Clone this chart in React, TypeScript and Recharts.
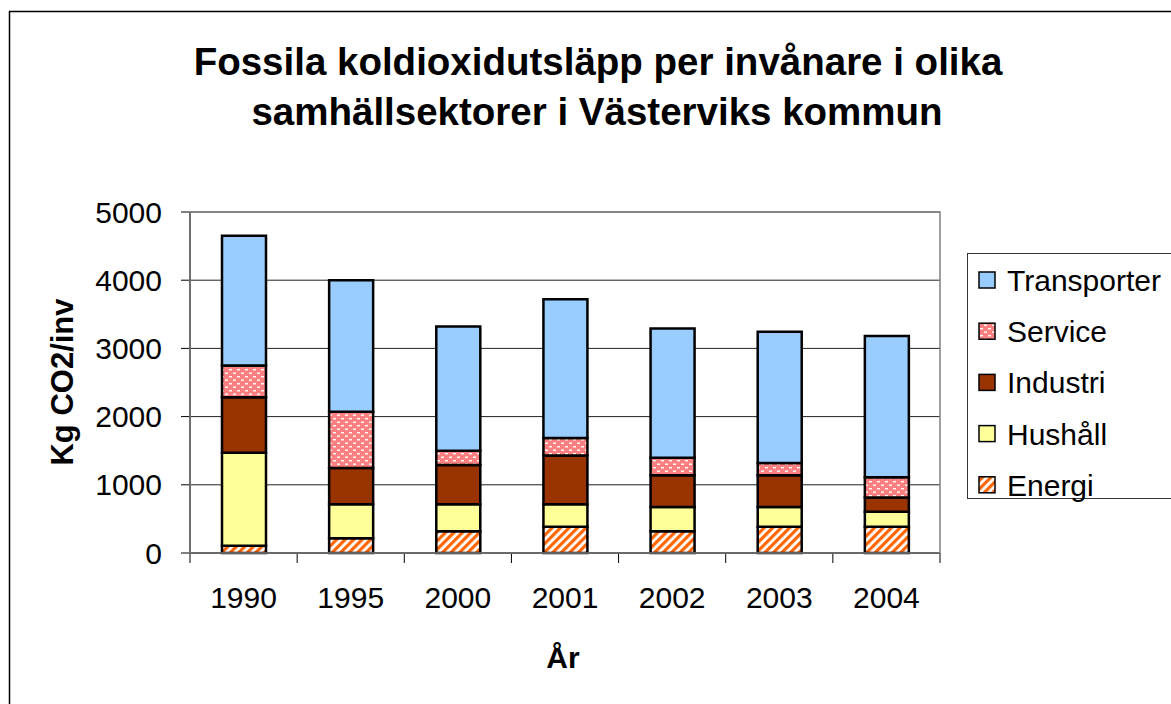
import React from "react";
import { BarChart, Bar, XAxis, YAxis, CartesianGrid } from "recharts";

const years = ["1990", "1995", "2000", "2001", "2002", "2003", "2004"];
const energi = [105, 215, 320, 385, 320, 385, 385];
const hushall = [1365, 500, 395, 330, 355, 290, 220];
const industri = [815, 530, 575, 715, 465, 465, 210];
const service = [465, 825, 210, 255, 255, 180, 295];
const transporter = [1900, 1930, 1820, 2035, 1895, 1925, 2070];
const yTicks = [0, 1000, 2000, 3000, 4000, 5000];

const FONT = "'Liberation Sans', Arial, sans-serif";

// stack order, bottom to top
const series = [
  { key: "energi", name: "Energi", fill: "url(#energiPattern)" },
  { key: "hushall", name: "Hushåll", fill: "#FFFF99" },
  { key: "industri", name: "Industri", fill: "#993300" },
  { key: "service", name: "Service", fill: "url(#servicePattern)" },
  { key: "transporter", name: "Transporter", fill: "#99CCFF" },
];

const data = years.map((year, i) => ({
  year,
  energi: energi[i],
  hushall: hushall[i],
  industri: industri[i],
  service: service[i],
  transporter: transporter[i],
}));

function Patterns({ prefix = "" }: { prefix?: string }) {
  return (
    <defs>
      <pattern
        id={prefix + "energiPattern"}
        patternUnits="userSpaceOnUse"
        width="6"
        height="6"
        patternTransform="rotate(45)"
      >
        <rect width="6" height="6" fill="#FFFFFF" />
        <rect width="3.2" height="6" fill="#FF6600" />
      </pattern>
      <pattern
        id={prefix + "servicePattern"}
        patternUnits="userSpaceOnUse"
        width="8"
        height="7"
      >
        <rect width="8" height="7" fill="#FF8080" />
        <rect x="1" y="1.5" width="3" height="1.4" fill="#FFFFFF" />
        <rect x="5" y="5" width="3" height="1.4" fill="#FFFFFF" />
      </pattern>
    </defs>
  );
}

function XTick(props: any) {
  const { x, y, payload, index, visibleTicksCount, width } = props;
  const band = width / visibleTicksCount;
  const last = index === visibleTicksCount - 1;
  return (
    <g>
      <line x1={x - band / 2} x2={x - band / 2} y1={y - 10} y2={y} stroke="#000" />
      {last && (
        <line x1={x + band / 2} x2={x + band / 2} y1={y - 10} y2={y} stroke="#000" />
      )}
      <text
        x={x}
        y={y + 45}
        textAnchor="middle"
        fontSize={30}
        fontFamily={FONT}
        fill="#000"
      >
        {payload.value}
      </text>
    </g>
  );
}

function LegendBox() {
  const items = [...series].reverse();
  return (
    <g transform="translate(967, 253)">
      <rect x={0.5} y={0.5} width={260} height={245} fill="#fff" stroke="#333" />
      {items.map((s, i) => {
        const cy = 27 + i * 51.2;
        const fill = s.fill.replace("url(#", "url(#lg-");
        return (
          <g key={s.key}>
            <rect
              x={12}
              y={cy - 8}
              width={16}
              height={16}
              fill={fill}
              stroke="#000"
              strokeWidth={1.5}
            />
            <text x={40} y={cy + 11} fontSize={30} fontFamily={FONT} fill="#000">
              {s.name}
            </text>
          </g>
        );
      })}
    </g>
  );
}

export default function App() {
  return (
    <div
      style={{
        position: "absolute",
        left: 0,
        top: 0,
        width: 1171,
        height: 704,
        background: "#fff",
        overflow: "hidden",
      }}
    >
      <BarChart
        width={1171}
        height={704}
        data={data}
        margin={{ top: 212, right: 231, bottom: 0, left: 0 }}
        barSize={44}
      >
        <Patterns />
        <CartesianGrid vertical={false} stroke="#222" />
        <XAxis
          dataKey="year"
          height={151}
          tickLine={false}
          tickSize={10}
          tickMargin={0}
          axisLine={{ stroke: "#000", strokeWidth: 1.5 }}
          tick={<XTick />}
          interval={0}
        />
        <YAxis
          width={190}
          domain={[0, 5000]}
          ticks={yTicks}
          interval={0}
          tickSize={9}
          tickMargin={19}
          axisLine={{ stroke: "#000", strokeWidth: 1.5 }}
          tickLine={{ stroke: "#000" }}
          tick={{ fontSize: 30, fontFamily: FONT, fill: "#000" }}
        />
        {series.map((s) => (
          <Bar
            key={s.key}
            dataKey={s.key}
            name={s.name}
            stackId="a"
            fill={s.fill}
            stroke="#000"
            strokeWidth={2.5}
            isAnimationActive={false}
          />
        ))}
      </BarChart>
      <svg
        width={1171}
        height={704}
        style={{ position: "absolute", left: 0, top: 0, pointerEvents: "none" }}
      >
        <Patterns prefix="lg-" />
        <rect x={9.5} y={11.5} width={1200} height={720} fill="none" stroke="#000" strokeWidth={1.5} />
        <rect x={190} y={212} width={750} height={341} fill="none" stroke="#808080" strokeWidth={1.5} />
        <text
          x={598}
          y={75}
          textAnchor="middle"
          fontSize={38.5}
          fontWeight="bold"
          fontFamily={FONT}
        >
          Fossila koldioxidutsläpp per invånare i olika
        </text>
        <text
          x={597}
          y={125}
          textAnchor="middle"
          fontSize={38.5}
          fontWeight="bold"
          fontFamily={FONT}
        >
          samhällsektorer i Västerviks kommun
        </text>
        <text
          x={73}
          y={382}
          transform="rotate(-90 73 382)"
          textAnchor="middle"
          fontSize={31}
          fontWeight="bold"
          fontFamily={FONT}
        >
          Kg CO2/inv
        </text>
        <text
          x={563}
          y={668}
          textAnchor="middle"
          fontSize={30}
          fontWeight="bold"
          fontFamily={FONT}
        >
          År
        </text>
        <LegendBox />
      </svg>
    </div>
  );
}
